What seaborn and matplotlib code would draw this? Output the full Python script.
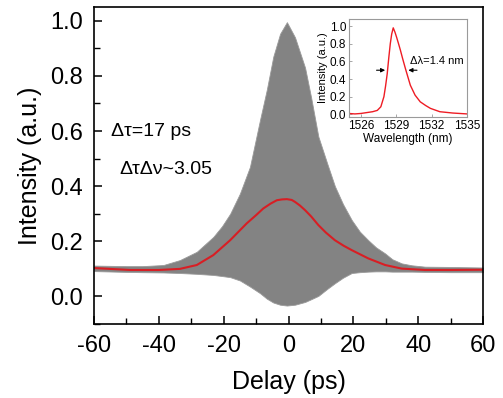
import matplotlib
matplotlib.use("Agg")
import matplotlib.pyplot as plt
import seaborn as sns
import pandas as pd
from matplotlib.ticker import MultipleLocator

# ---- data ----
delay = [-60, -50, -45, -38.6, -33.5, -28.3, -23.2, -20.5, -18, -15, -11.9, -8.8, -6.7, -4.7, -2.6, -0.5,
         2.0, 5.1, 7.0, 9.2, 12.0, 14.3, 16.8, 19.5, 22.0, 24.6, 27.0, 29.8, 32.0, 34.9, 38.0, 42.1, 50, 60]
upper_env = [0.112, 0.110, 0.110, 0.114, 0.132, 0.162, 0.216, 0.255, 0.300, 0.373, 0.470, 0.640, 0.750, 0.870, 0.953, 0.995,
             0.940, 0.830, 0.720, 0.580, 0.480, 0.400, 0.335, 0.277, 0.235, 0.204, 0.178, 0.156, 0.135, 0.120, 0.113, 0.108, 0.107, 0.105]
lower_env = [0.092, 0.089, 0.088, 0.087, 0.085, 0.082, 0.078, 0.074, 0.070, 0.058, 0.036, 0.012, -0.008, -0.022, -0.030, -0.033,
             -0.030, -0.020, -0.010, 0.002, 0.028, 0.048, 0.068, 0.085, 0.088, 0.090, 0.091, 0.091, 0.090, 0.090, 0.090, 0.089, 0.088, 0.088]

fit_delay = [-60, -48.9, -40, -33.5, -28.3, -23.2, -18, -12.9, -10, -7.8, -5.5, -3.6, -2, -0.5,
             1.0, 2.0, 3.5, 5.1, 7.0, 9.2, 11.5, 14.3, 17.0, 19.5, 24.6, 29.8, 34.9, 42.1, 50, 60]
fit_int = [0.103, 0.096, 0.096, 0.100, 0.114, 0.150, 0.204, 0.265, 0.295, 0.319, 0.337, 0.349, 0.352, 0.353,
           0.350, 0.343, 0.330, 0.313, 0.290, 0.259, 0.232, 0.204, 0.184, 0.168, 0.138, 0.114, 0.101, 0.096, 0.096, 0.097]

wavelength = [1525.0, 1525.5, 1526.0, 1526.5, 1527.0, 1527.4, 1527.7, 1527.96, 1528.1, 1528.24, 1528.38,
              1528.5, 1528.62, 1528.75, 1528.9, 1529.03, 1529.2, 1529.36, 1529.55, 1529.78, 1530.0, 1530.2,
              1530.6, 1531.04, 1531.5, 1531.9, 1532.7, 1533.8, 1535.0]
spectrum = [0.010, 0.005, 0.010, 0.020, 0.030, 0.045, 0.086, 0.200, 0.320, 0.460, 0.650,
            0.800, 0.910, 0.980, 0.930, 0.876, 0.800, 0.726, 0.630, 0.520, 0.420, 0.330,
            0.218, 0.142, 0.100, 0.068, 0.030, 0.015, 0.005]

x_ticks = [-60, -40, -20, 0, 20, 40, 60]
y_ticks = [0.0, 0.2, 0.4, 0.6, 0.8, 1.0]
inset_x_ticks = [1526, 1529, 1532, 1535]
inset_y_ticks = [0.0, 0.2, 0.4, 0.6, 0.8, 1.0]

# ---- style ----
sns.set_style("ticks")
plt.rcParams['font.family'] = ['Liberation Sans', 'DejaVu Sans']
plt.rcParams['axes.linewidth'] = 1.2
plt.rcParams['text.color'] = 'black'
plt.rcParams['axes.labelcolor'] = 'black'
plt.rcParams['xtick.color'] = 'black'
plt.rcParams['ytick.color'] = 'black'

fig = plt.figure(figsize=(5.03, 3.98), dpi=100)
ax = fig.add_axes([0.1869, 0.1859, 0.7734, 0.7965])

env_df = pd.DataFrame({"delay": delay, "upper": upper_env, "lower": lower_env})
fit_df = pd.DataFrame({"delay": fit_delay, "intensity": fit_int})
spec_df = pd.DataFrame({"wavelength": wavelength, "intensity": spectrum})

ax.fill_between(env_df["delay"], env_df["lower"], env_df["upper"], color="#838383", linewidth=0.6,
                edgecolor="#9a9a9a")
sns.lineplot(data=fit_df, x="delay", y="intensity", ax=ax, color="#d81e24", linewidth=1.5)

ax.set_xlim(-60, 60)
ax.set_ylim(-0.1, 1.05)
ax.set_xticks(x_ticks)
ax.set_xticklabels([str(t) for t in x_ticks])
ax.set_yticks(y_ticks)
ax.set_yticklabels([f"{t:.1f}" for t in y_ticks])
ax.xaxis.set_minor_locator(MultipleLocator(10))
ax.yaxis.set_minor_locator(MultipleLocator(0.1))
ax.tick_params(which="major", direction="in", length=6, width=1.1, labelsize=17, pad=8)
ax.tick_params(which="minor", direction="in", length=4, width=1.0)
ax.set_xlabel("Delay (ps)", fontsize=18, labelpad=9)
ax.set_ylabel("Intensity (a.u.)", fontsize=18, labelpad=6)
for s in ax.spines.values():
    s.set_visible(True)
    s.set_color("black")

ax.text(-42.3, 0.597, "\u0394\u03c4=17 ps", fontsize=14, ha="center", va="center")
ax.text(-37.8, 0.459, "\u0394\u03c4\u0394\u03bd~3.05", fontsize=14, ha="center", va="center")

# ---- inset ----
ins = fig.add_axes([0.6938, 0.706, 0.2346, 0.2462])
sns.lineplot(data=spec_df, x="wavelength", y="intensity", ax=ins, color="#ee1c24", linewidth=1.0)
ins.set_xlim(1525, 1535)
ins.set_ylim(-0.03, 1.08)
ins.set_xticks(inset_x_ticks)
ins.set_xticklabels([str(t) for t in inset_x_ticks])
ins.set_yticks(inset_y_ticks)
ins.set_yticklabels([f"{t:.1f}" for t in inset_y_ticks])
ins.tick_params(direction="in", length=2, width=0.6, labelsize=8.5, pad=2, color="#999999")
ins.set_xlabel("Wavelength (nm)", fontsize=8.5, labelpad=1)
ins.set_ylabel("Intensity (a.u.)", fontsize=8, labelpad=1)
for s in ins.spines.values():
    s.set_visible(True)
    s.set_color("#9a9a9a")
    s.set_linewidth(0.8)

ins.annotate("", xy=(1528.3, 0.5), xytext=(1527.1, 0.5),
             arrowprops=dict(arrowstyle="-|>", color="black", lw=0.8, mutation_scale=6))
ins.annotate("", xy=(1529.8, 0.5), xytext=(1531.0, 0.5),
             arrowprops=dict(arrowstyle="-|>", color="black", lw=0.8, mutation_scale=6))
ins.text(1530.2, 0.6, "\u0394\u03bb=1.4 nm", fontsize=8, ha="left", va="center")

fig.savefig("out.png", dpi=100)
